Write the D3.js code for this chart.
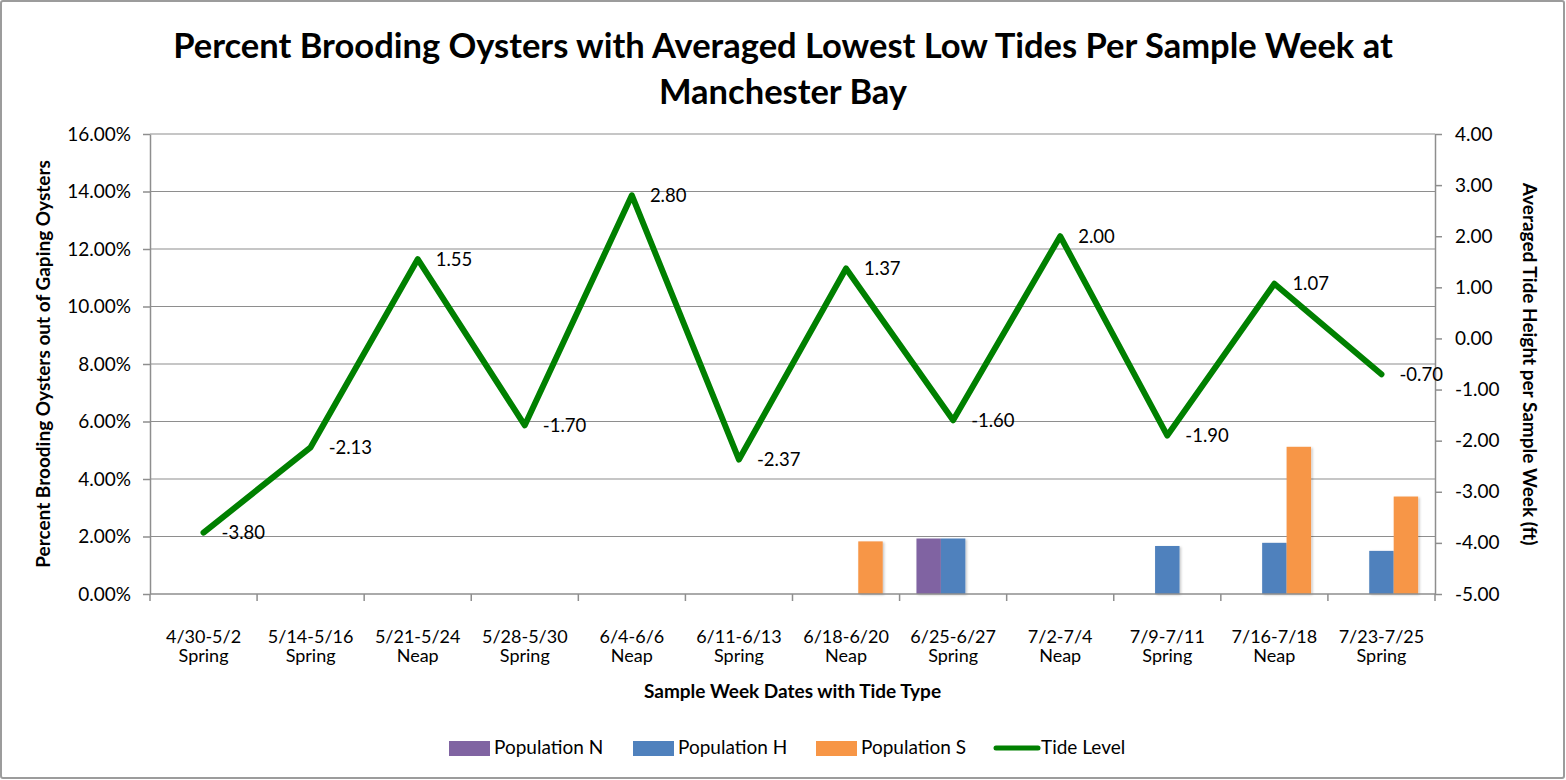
<!DOCTYPE html>
<html>
<head>
<meta charset="utf-8">
<script src="https://cdn.jsdelivr.net/npm/d3@7"></script>
<style>
  html, body { margin: 0; padding: 0; background: #fff; }
  svg text { font-family: Lato, "Open Sans", sans-serif; fill: #000; }
</style>
</head>
<body>
<svg id="chart" width="1566" height="780"></svg>
<script>
// ---- data ----
const weeks = ["4/30-5/2","5/14-5/16","5/21-5/24","5/28-5/30","6/4-6/6","6/11-6/13","6/18-6/20","6/25-6/27","7/2-7/4","7/9-7/11","7/16-7/18","7/23-7/25"];
const tideTypes = ["Spring","Spring","Neap","Spring","Neap","Spring","Neap","Spring","Neap","Spring","Neap","Spring"];
const popN = [0,0,0,0,0,0,0,0.0193,0,0,0,0];
const popH = [0,0,0,0,0,0,0,0.0193,0,0.0167,0.0178,0.0150];
const popS = [0,0,0,0,0,0,0.0183,0,0,0,0.0512,0.0339];
const tideLevel = [-3.80,-2.13,1.55,-1.70,2.80,-2.37,1.37,-1.60,2.00,-1.90,1.07,-0.70];
const seriesNames = ["Population N","Population H","Population S"];
const seriesColors = ["#8064A2","#4F81BD","#F79646"];
const lineName = "Tide Level";
const lineColor = "#008000";
const leftTicks = [0,0.02,0.04,0.06,0.08,0.10,0.12,0.14,0.16];
const rightTicks = [-5,-4,-3,-2,-1,0,1,2,3,4];
const titleLines = ["Percent Brooding Oysters with Averaged Lowest Low Tides Per Sample Week at","Manchester Bay"];
const leftTitle = "Percent Brooding Oysters out of Gaping Oysters";
const rightTitle = "Averaged Tide Height per Sample Week (ft)";
const xTitle = "Sample Week Dates with Tide Type";

// ---- layout ----
const W = 1566, H = 780;
const L = 150, R = 1435, T = 134, B = 594;
const FS = "19px";
const svg = d3.select("#chart");

const defs = svg.append("defs");
const f = defs.append("filter").attr("id","shadow").attr("x","-20%").attr("y","-20%").attr("width","160%").attr("height","140%");
f.append("feDropShadow").attr("dx",1.5).attr("dy",1).attr("stdDeviation",1).attr("flood-color","#000").attr("flood-opacity",0.22);

svg.append("rect").attr("x",1).attr("y",1).attr("width",W-3).attr("height",H-3)
  .attr("fill","#fff").attr("stroke","#9c9c9c").attr("stroke-width",2).attr("rx",2);

const x = d3.scaleBand().domain(weeks).range([L,R]).paddingInner(0).paddingOuter(0);
const xs = d3.scaleBand().domain(seriesNames).range([0,x.bandwidth()]).paddingInner(0).paddingOuter(0.69);
const yL = d3.scaleLinear().domain([0,0.16]).range([B,T]);
const yR = d3.scaleLinear().domain([-5,4]).range([B,T]);

// gridlines
svg.append("g").selectAll("line").data(leftTicks.filter(d=>d>0)).join("line")
  .attr("x1",L).attr("x2",R).attr("y1",d=>yL(d)).attr("y2",d=>yL(d))
  .attr("stroke","#8e8e8e").attr("stroke-width",1.2);

// bars
const seriesData = [popN, popH, popS];
const barG = svg.append("g").attr("filter","url(#shadow)");
seriesData.forEach((vals,si)=>{
  barG.append("g").selectAll("rect").data(vals.map((v,i)=>({v,i}))).join("rect")
    .filter(d=>d.v>0)
    .attr("x",d=>x(weeks[d.i])+xs(seriesNames[si]))
    .attr("width",xs.bandwidth())
    .attr("y",d=>yL(d.v))
    .attr("height",d=>yL(0)-yL(d.v))
    .attr("fill",seriesColors[si]);
});

// axes
const axisColor = "#8e8e8e";
const gL = svg.append("g").attr("transform",`translate(${L},0)`)
  .call(d3.axisLeft(yL).tickValues(leftTicks).tickFormat(d=>(d*100).toFixed(2)+"%").tickSizeInner(7).tickSizeOuter(0).tickPadding(12));
const gR = svg.append("g").attr("transform",`translate(${R},0)`)
  .call(d3.axisRight(yR).tickValues(rightTicks).tickFormat(d=>d.toFixed(2)).tickSizeInner(7).tickSizeOuter(0).tickPadding(13));
[gL,gR].forEach(g=>{
  g.selectAll("path.domain").attr("stroke",axisColor).attr("stroke-width",1.5);
  g.selectAll(".tick line").attr("stroke",axisColor).attr("stroke-width",1.5);
  g.selectAll(".tick text").style("font-size",FS).attr("fill","#000");
});

// x axis
svg.append("line").attr("x1",L).attr("x2",R).attr("y1",B).attr("y2",B).attr("stroke",axisColor).attr("stroke-width",1.5);
const bounds = weeks.map(w=>x(w)).concat([x(weeks[weeks.length-1])+x.bandwidth()]);
svg.append("g").selectAll("line").data(bounds).join("line")
  .attr("x1",d=>d).attr("x2",d=>d).attr("y1",B).attr("y2",B+7)
  .attr("stroke",axisColor).attr("stroke-width",1.5);
const xl = svg.append("g").selectAll("text").data(weeks).join("text")
  .attr("x",d=>x(d)+x.bandwidth()/2).attr("y",643)
  .attr("text-anchor","middle").style("font-size","18px");
xl.append("tspan").text(d=>d);
xl.append("tspan").attr("x",d=>x(d)+x.bandwidth()/2).attr("dy",19).text((d,i)=>tideTypes[i]);

// line
const line = d3.line().x((d,i)=>x(weeks[i])+x.bandwidth()/2).y(d=>yR(d));
svg.append("path").datum(tideLevel).attr("d",line)
  .attr("fill","none").attr("stroke",lineColor).attr("stroke-width",6)
  .attr("stroke-linejoin","round").attr("stroke-linecap","round");

// data labels
svg.append("g").selectAll("text").data(tideLevel).join("text")
  .attr("x",(d,i)=>x(weeks[i])+x.bandwidth()/2+18)
  .attr("y",d=>yR(d)+2).attr("dominant-baseline","middle")
  .style("font-size","18.5px").text(d=>d.toFixed(2));

// titles
const tt = svg.append("text").attr("text-anchor","middle").style("font-size","34.5px").style("font-weight","bold");
titleLines.forEach((t,i)=>tt.append("tspan").attr("x",783).attr("y",58+i*46).text(t));

svg.append("text").attr("transform",`translate(50,${(T+B)/2}) rotate(-90)`)
  .attr("text-anchor","middle").style("font-size",FS).style("font-weight","bold").text(leftTitle);
svg.append("text").attr("transform",`translate(1528,${(T+B)/2}) rotate(90)`)
  .attr("text-anchor","middle").attr("dominant-baseline","middle")
  .style("font-size",FS).style("font-weight","bold").text(rightTitle);
svg.append("text").attr("x",(L+R)/2).attr("y",698).attr("text-anchor","middle")
  .style("font-size",FS).style("font-weight","bold").text(xTitle);

// legend
const legendItems = [
  {name:seriesNames[0], color:seriesColors[0], type:"rect", x:449},
  {name:seriesNames[1], color:seriesColors[1], type:"rect", x:633},
  {name:seriesNames[2], color:seriesColors[2], type:"rect", x:816},
  {name:lineName, color:lineColor, type:"line", x:996}
];
const lg = svg.append("g");
legendItems.forEach(it=>{
  if (it.type==="rect") {
    lg.append("rect").attr("x",it.x).attr("y",741).attr("width",41).attr("height",15).attr("fill",it.color);
  } else {
    lg.append("line").attr("x1",it.x).attr("x2",it.x+42).attr("y1",748).attr("y2",748)
      .attr("stroke",it.color).attr("stroke-width",5).attr("stroke-linecap","round");
  }
  lg.append("text").attr("x",it.x+45).attr("y",749).attr("dominant-baseline","middle")
    .style("font-size",FS).text(it.name);
});
</script>
</body>
</html>
